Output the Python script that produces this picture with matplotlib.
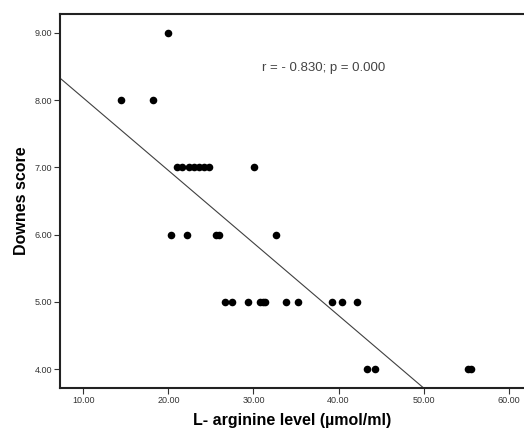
import numpy as np
import matplotlib
matplotlib.use("Agg")
import matplotlib.pyplot as plt

plt.rcParams['font.family'] = ['Liberation Sans', 'DejaVu Sans']

# L-arginine level vs Downes score
arginine = [19.9, 14.4, 18.2,
            21.0, 21.6, 22.4, 23.0, 23.6, 24.2, 24.8, 30.1,
            20.3, 22.2, 25.6, 25.9, 32.6,
            26.7, 27.5, 29.4, 30.8, 31.1, 31.4, 33.8, 35.2, 39.2, 40.4, 42.2,
            43.4, 44.3, 55.2, 55.6]
downes = [9, 8, 8,
          7, 7, 7, 7, 7, 7, 7, 7,
          6, 6, 6, 6, 6,
          5, 5, 5, 5, 5, 5, 5, 5, 5, 5, 5,
          4, 4, 4, 4]

# fit line as drawn in the original
fit_intercept = 9.11
fit_slope = -0.1078

xticks = [10, 20, 30, 40, 50, 60]
yticks = [4, 5, 6, 7, 8, 9]
xlim = (7.26, 61.8)
ylim = (3.72, 9.28)

fig = plt.figure(figsize=(5.24, 4.30), dpi=100)
ax = fig.add_axes([0.1145, 0.0977, 0.8855, 0.8697])

ax.scatter(arginine, downes, s=30, color='black', zorder=3, linewidths=0)

lx = np.array(xlim)
ax.plot(lx, fit_intercept + fit_slope * lx, color='#404040', lw=0.8, zorder=2)

ax.set_xlim(*xlim)
ax.set_ylim(*ylim)
ax.set_xticks(xticks)
ax.set_yticks(yticks)
ax.set_xticklabels(['%.2f' % v for v in xticks])
ax.set_yticklabels(['%.2f' % v for v in yticks])
ax.tick_params(labelsize=6.5, length=4, width=0.8, color='#333333',
               labelcolor='#333333', pad=1.5)

for s in ['left', 'bottom', 'top']:
    ax.spines[s].set_linewidth(1.5)
    ax.spines[s].set_color('#222222')
ax.spines['right'].set_visible(False)

ax.set_xlabel('L- arginine level (µmol/ml)', fontsize=11.5, fontweight='bold', labelpad=6)
ax.set_ylabel('Downes score', fontsize=11.5, fontweight='bold', labelpad=4)

ax.text(31.0, 8.48, 'r = - 0.830; p = 0.000', fontsize=9.5, color='#444444',
        ha='left', va='center')

fig.savefig('out.png', dpi=100)
